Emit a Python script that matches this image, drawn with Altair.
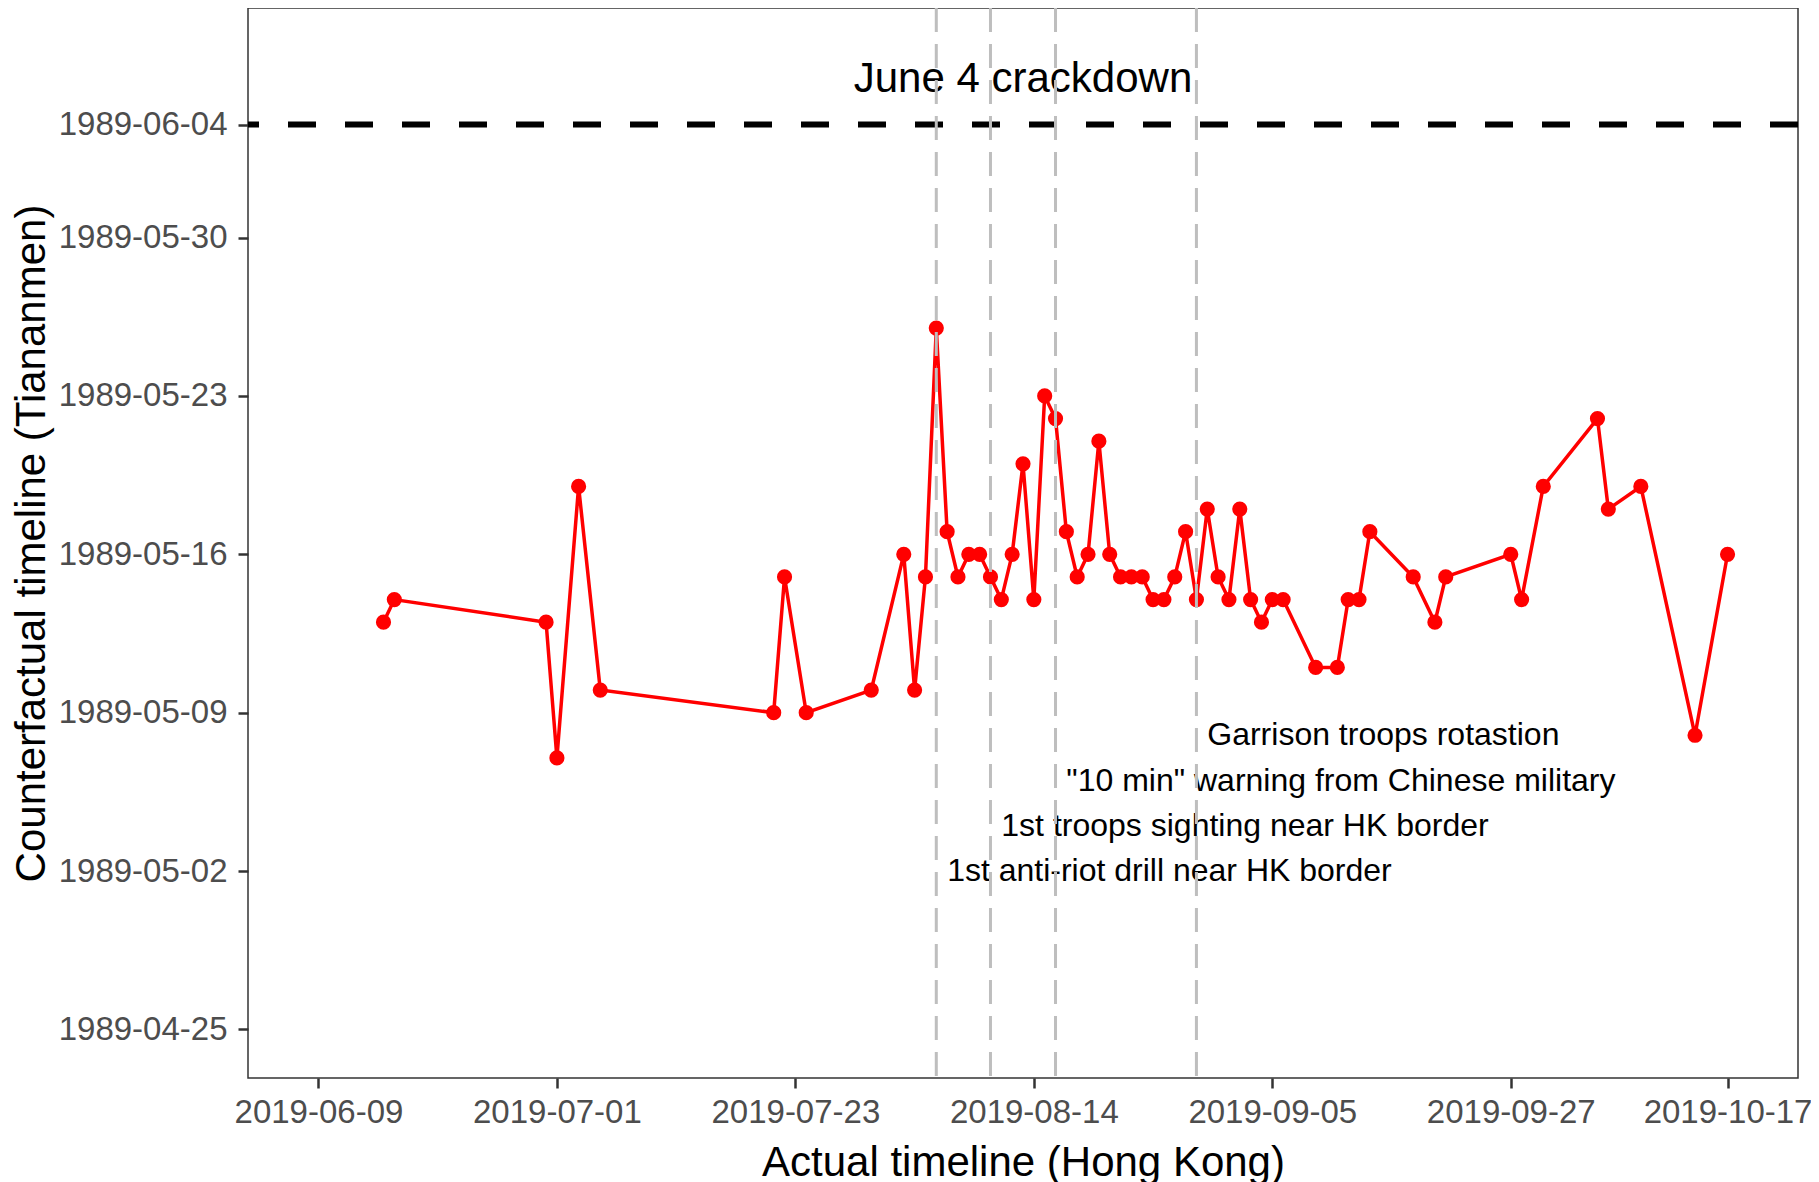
import altair as alt
import pandas as pd

# ---- data ----
hk_dates = [
    "2019-06-15", "2019-06-16", "2019-06-30", "2019-07-01", "2019-07-03", "2019-07-05",
    "2019-07-21", "2019-07-22", "2019-07-24", "2019-07-30", "2019-08-02", "2019-08-03",
    "2019-08-04", "2019-08-05", "2019-08-06", "2019-08-07", "2019-08-08", "2019-08-09",
    "2019-08-10", "2019-08-11", "2019-08-12", "2019-08-13", "2019-08-14", "2019-08-15",
    "2019-08-16", "2019-08-17", "2019-08-18", "2019-08-19", "2019-08-20", "2019-08-21",
    "2019-08-22", "2019-08-23", "2019-08-24", "2019-08-25", "2019-08-26", "2019-08-27",
    "2019-08-28", "2019-08-29", "2019-08-30", "2019-08-31", "2019-09-01", "2019-09-02",
    "2019-09-03", "2019-09-04", "2019-09-05", "2019-09-06", "2019-09-09", "2019-09-11",
    "2019-09-12", "2019-09-13", "2019-09-14", "2019-09-18", "2019-09-20", "2019-09-21",
    "2019-09-27", "2019-09-28", "2019-09-30", "2019-10-05", "2019-10-06", "2019-10-09",
    "2019-10-14", "2019-10-17",
]
tam_dates = [
    "1989-05-13", "1989-05-14", "1989-05-13", "1989-05-07", "1989-05-19", "1989-05-10",
    "1989-05-09", "1989-05-15", "1989-05-09", "1989-05-10", "1989-05-16", "1989-05-10",
    "1989-05-15", "1989-05-26", "1989-05-17", "1989-05-15", "1989-05-16", "1989-05-16",
    "1989-05-15", "1989-05-14", "1989-05-16", "1989-05-20", "1989-05-14", "1989-05-23",
    "1989-05-22", "1989-05-17", "1989-05-15", "1989-05-16", "1989-05-21", "1989-05-16",
    "1989-05-15", "1989-05-15", "1989-05-15", "1989-05-14", "1989-05-14", "1989-05-15",
    "1989-05-17", "1989-05-14", "1989-05-18", "1989-05-15", "1989-05-14", "1989-05-18",
    "1989-05-14", "1989-05-13", "1989-05-14", "1989-05-14", "1989-05-11", "1989-05-11",
    "1989-05-14", "1989-05-14", "1989-05-17", "1989-05-15", "1989-05-13", "1989-05-15",
    "1989-05-16", "1989-05-14", "1989-05-19", "1989-05-22", "1989-05-18", "1989-05-19",
    "1989-05-08", "1989-05-16",
]

event_dates = ["2019-08-05", "2019-08-10", "2019-08-16", "2019-08-29"]
event_label_x = ["2019-08-06", "2019-08-11", "2019-08-17", "2019-08-30"]
event_label_y = ["1989-05-02", "1989-05-04", "1989-05-06", "1989-05-08"]
event_labels = [
    "1st anti-riot drill near HK border",
    "1st troops sighting near HK border",
    "\"10 min\" warning from Chinese military",
    "Garrison troops rotastion",
]

crackdown_date = ["1989-06-04"]
crackdown_label = ["June 4 crackdown"]
crackdown_label_x = ["2019-08-13"]
crackdown_label_y = ["1989-06-06"]

x_ticks = ["2019-06-09", "2019-07-01", "2019-07-23", "2019-08-14",
           "2019-09-05", "2019-09-27", "2019-10-17"]
y_ticks = ["1989-04-25", "1989-05-02", "1989-05-09", "1989-05-16",
           "1989-05-23", "1989-05-30", "1989-06-04"]

x_domain = ["2019-06-02T12:00:00", "2019-10-23T12:00:00"]
y_domain = ["1989-04-22T20:24:00", "1989-06-09T03:36:00"]


def ms(s):
    return int(pd.Timestamp(s).value // 10**6)


FONT = "Liberation Sans"
LABEL_EXPR = "utcFormat(datum.value, '%Y-%m-%d')"

main_df = pd.DataFrame({"hk": hk_dates, "tam": tam_dates})
ev_df = pd.DataFrame({"hk": event_dates, "lx": event_label_x, "ly": event_label_y, "label": event_labels})
cr_df = pd.DataFrame({"tam": crackdown_date, "lx": crackdown_label_x, "ly": crackdown_label_y,
                      "label": crackdown_label})

x_scale = alt.Scale(type="utc", domain=[ms(v) for v in x_domain])
y_scale = alt.Scale(type="utc", domain=[ms(v) for v in y_domain])

x_axis = alt.Axis(
    title="Actual timeline (Hong Kong)",
    values=[ms(v) for v in x_ticks],
    labelExpr=LABEL_EXPR,
    labelPadding=8,
    titleY=97,
    titleX=775,
    titleBaseline="alphabetic",
    titleAlign="center",
)
y_axis = alt.Axis(
    title="Counterfactual timeline (Tiananmen)",
    values=[ms(v) for v in y_ticks],
    labelExpr=LABEL_EXPR,
    labelPadding=11,
    titleX=-204,
    titleY=535,
    titleAngle=270,
    titleBaseline="alphabetic",
    titleAlign="center",
)


def xenc(field):
    return alt.X(field, type="temporal", scale=x_scale, axis=x_axis)


def yenc(field):
    return alt.Y(field, type="temporal", scale=y_scale, axis=y_axis)


base = alt.Chart(main_df)

line = base.mark_line(color="#FF0000", strokeWidth=3.5).encode(x=xenc("hk"), y=yenc("tam"))
points = base.mark_circle(color="#FF0000", size=230, opacity=1).encode(x=xenc("hk"), y=yenc("tam"))

hline = alt.Chart(cr_df).mark_rule(color="black", strokeWidth=6, strokeDash=[28, 29]).encode(
    y=yenc("tam")
)
cr_text = alt.Chart(cr_df).mark_text(
    font=FONT, fontSize=42, color="black", align="center", baseline="middle"
).encode(
    x=xenc("lx"),
    y=yenc("ly"),
    text="label:N",
)

ev_text = alt.Chart(ev_df).mark_text(
    font=FONT, fontSize=32, color="black", align="left", baseline="middle"
).encode(
    x=xenc("lx"),
    y=yenc("ly"),
    text="label:N",
)

vlines = alt.Chart(ev_df).mark_rule(color="#BEBEBE", strokeWidth=3, strokeDash=[24, 12]).encode(
    x=xenc("hk")
)

chart = alt.layer(hline, line, points, cr_text, ev_text, vlines).properties(
    width=1550,
    height=1070,
    autosize=alt.AutoSizeParams(type="none"),
    padding={"left": 240, "top": 0, "right": 13, "bottom": 110},
).configure_axis(
    grid=False,
    domain=False,
    labelFont=FONT,
    labelFontSize=33,
    labelColor="#4D4D4D",
    tickColor="#333333",
    tickSize=10,
    tickWidth=2.5,
    titleFont=FONT,
    titleFontSize=42,
    titleFontWeight="normal",
    titleColor="black",
).configure_view(
    stroke="#333333",
    strokeWidth=1.5,
)

chart.save("out.html", embed_options={"renderer": "svg", "actions": False})
